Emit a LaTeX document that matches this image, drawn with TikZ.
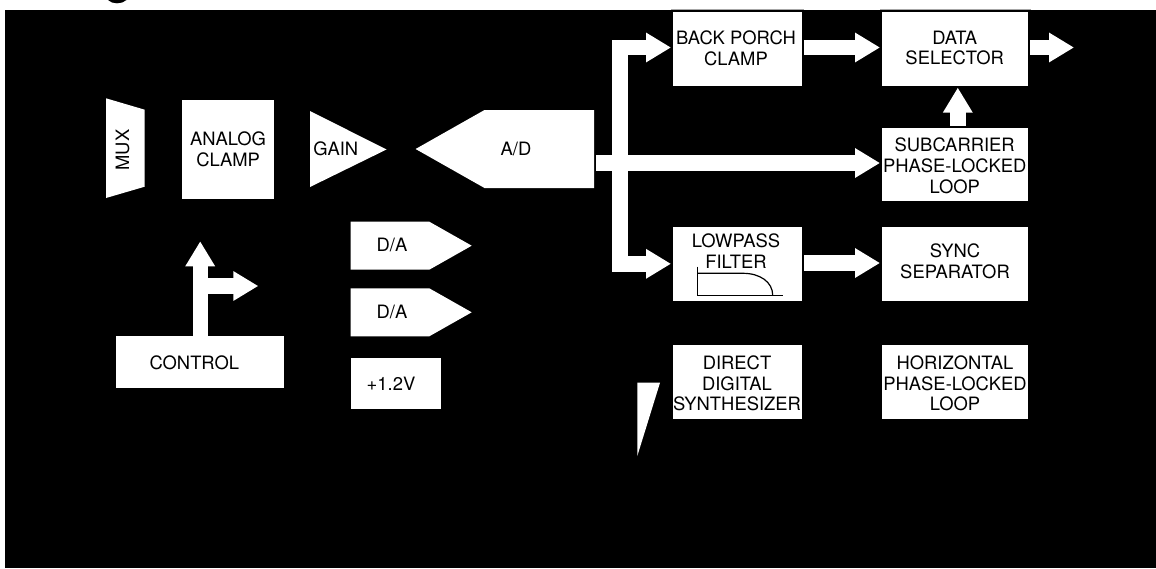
\documentclass[tikz,border=0pt]{standalone}
\usepackage{fontspec}
\setmainfont{TeX Gyre Heros}
\usetikzlibrary{arrows.meta,calc}
\tikzset{
  panel/.style ={fill=black},
  block/.style ={fill=white, draw=none, inner sep=0pt, outer sep=1pt,
                 align=center, text=black, font=\fontsize{9.2}{10.4}\selectfont},
  wide/.style  ={block, minimum width=64.5pt, minimum height=36.8pt},
  wider/.style ={block, minimum width=73pt, minimum height=36.8pt},
  lbl/.style   ={inner sep=0pt, align=center, text=black,
                 font=\fontsize{9.2}{10.4}\selectfont},
  sgn/.style   ={fill=white, draw=none},
  ar/.style    ={-{Triangle[length=12.5pt,width=14pt]}, draw=white,
                 line width=7.7pt},
  glyph/.style ={draw=black, line width=0.6pt},
  rim/.style   ={draw=black!35, line width=0.4pt}
}
\begin{document}
\begin{tikzpicture}[x=0.5pt,y=-0.5pt]
\useasboundingbox (0,0) rectangle (1156,568);
\fill[panel] (5,10) rectangle (1156,568);
\fill[panel] (108,0) .. controls (112,4.4) and (122,4.4) .. (126.5,0) -- cycle;
\draw[rim] (671,9.5) -- (804,9.5);
\draw[rim] (880,9.5) -- (1031,9.5);

\fill[sgn] (106,98.3) -- (144.7,109.7) -- (144.7,186.7) -- (106,198) -- cycle;
\node[lbl, rotate=90] (mux) at (122.5,150) {MUX};
\node[block, minimum width=46.3pt, minimum height=49.3pt] (clamp) at (228.1,149.3)
  {ANALOG\\CLAMP};
\fill[sgn] (310,111) -- (386.5,149.5) -- (310,187) -- cycle;
\node[lbl] (gain) at (335.8,149) {GAIN};
\fill[sgn] (415.6,149) -- (484.5,110) -- (594,110) -- (594,188) -- (484.5,188) -- cycle;
\node[lbl] (ad) at (516,149) {A/D};
\coordinate (adout) at (596,163);

\fill[sgn] (350.7,221.7) -- (429.3,221.7) -- (471.7,245.7) -- (429.3,269.7)
  -- (350.7,269.7) -- cycle;
\node[lbl] (dacone) at (392,245) {D/A};
\fill[sgn] (350.7,288.3) -- (429.3,288.3) -- (471.7,312.3) -- (429.3,336.3)
  -- (350.7,336.3) -- cycle;
\node[lbl] (dactwo) at (392,312) {D/A};
\node[block, minimum width=45.1pt, minimum height=25.8pt] (ref) at (395.8,383.5) {};
\node[lbl] (reftext) at (391,383.7) {+1.2V};

\node[block, minimum width=84.1pt, minimum height=25.7pt, outer sep=0pt] (control) at (200.2,362)
  {};
\node[lbl] (controltext) at (194.3,363) {CONTROL};
\coordinate (ctlup) at (200.2,241.3);
\coordinate (ctlbranch) at (200.2,286);
\coordinate (ctlright) at (258.3,286);

\node[wide] (back) at (737.5,48.8) {};
\node[lbl] (backtext) at (736,48) {BACK PORCH\\CLAMP};
\node[wider] (data) at (955,48.8) {};
\node[lbl] (datatext) at (954.7,48) {DATA\\SELECTOR};
\node[wider] (sub) at (955,164.3) {};
\node[lbl] (subtext) at (954.7,165.7) {SUBCARRIER\\PHASE-LOCKED\\LOOP};
\node[wide] (lowpass) at (737.5,263.8) {};
\node[lbl] (lowpasstext) at (736,251.2) {LOWPASS\\FILTER};
\node[wider] (sync) at (955,263.8) {};
\node[lbl] (synctext) at (955,261.2) {SYNC\\SEPARATOR};
\node[wide] (dds) at (737.5,381.8) {};
\node[lbl] (ddstext) at (737,383.4) {DIRECT\\DIGITAL\\SYNTHESIZER};
\node[wider] (hpll) at (955,381.8) {};
\node[lbl] (hplltext) at (955,383.4) {HORIZONTAL\\PHASE-LOCKED\\LOOP};
\fill[sgn] (637.3,382.7) -- (660,382.7) -- (637.3,456) -- cycle;

\draw[glyph] (697.3,266.7) -- (697.3,295.3) -- (783,295.3);
\draw[glyph] (697.3,273.3) -- (743,273.3) .. controls (760,273.3) and (772.7,282) .. (772.7,295.3);

\coordinate (bus) at (620,163);
\coordinate (dataout) at (1074,47.5);
\draw[ar] (adout) -- ([yshift=0.65pt]sub.west);
\draw[ar] (bus) |- ([yshift=0.65pt]back.west);
\draw[ar] (bus) |- (lowpass.west);
\draw[ar] ([yshift=0.65pt]back.east) -- ([yshift=0.65pt]data.west);
\draw[ar] ([yshift=0.65pt]data.east) -- (dataout);
\draw[ar] ([xshift=1.4pt]sub.north) -- ([xshift=1.4pt]data.south);
\draw[ar] ([yshift=0.4pt]lowpass.east) -- ([yshift=0.4pt]sync.west);
\draw[ar] (control.north) -- (ctlup);
\draw[ar] (ctlbranch) -- (ctlright);
\end{tikzpicture}
\end{document}
